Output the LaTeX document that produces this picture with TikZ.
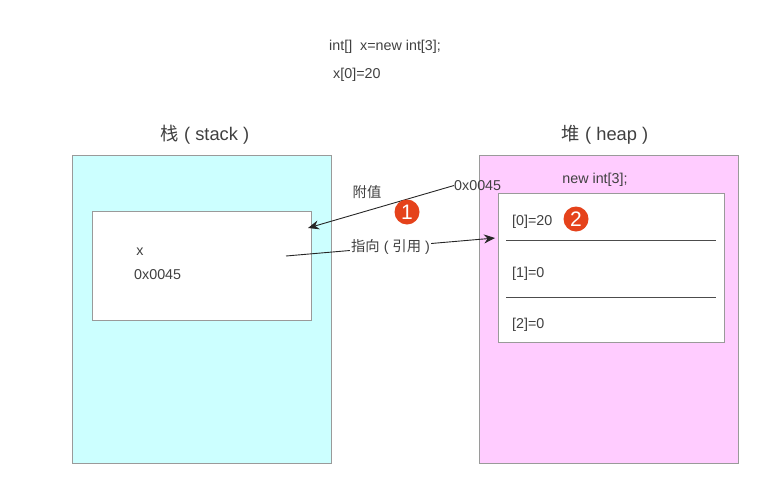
\documentclass[tikz,border=0pt]{standalone}
\usepackage{fontspec}
\setmainfont{Liberation Sans}
\newfontfamily\cjk{Noto Sans CJK SC}
\usetikzlibrary{arrows.meta}
\definecolor{stackfill}{HTML}{CCFFFF}
\definecolor{heapfill}{HTML}{FFCCFF}
\definecolor{edgegray}{HTML}{9A9A9A}
\definecolor{txtgray}{HTML}{404040}
\definecolor{badgered}{HTML}{E5421B}
\tikzset{
	txt/.style={text=txtgray, font=\fontsize{14.3}{16}\selectfont, inner sep=0pt, yshift=-1.5pt},
	title/.style={text=txtgray, font=\fontsize{18.3}{20}\selectfont, inner sep=0pt, yshift=-1.5pt},
	panel/.style={draw=edgegray, line width=0.8pt, inner sep=0pt},
	badge/.style={circle, fill=badgered, text=white, minimum size=25pt, inner sep=0pt, font=\fontsize{21}{21}\selectfont},
	link/.style={draw=black!85, line width=0.9pt, -{Stealth[length=11pt,width=9pt]}}
}
\def\cellsep(#1){\draw[line width=0.9pt, color=black!70] (506,#1) -- (716,#1);}

\begin{document}
\begin{tikzpicture}[x=1pt,y=-1pt]
			%%%%% START %%%%%
			\useasboundingbox (0,0) rectangle (776,482);
			
			\node[txt, anchor=west] (code1) at (329,45) {int[]\ \ x=new int[3];};
			\node[txt, anchor=west] (code2) at (333,73) {x[0]=20};
			
			\node[title] (stitle) at (205,133) {{\cjk 栈} ( stack )};
			\node[title] (htitle) at (605,133) {{\cjk 堆} ( heap )};
			
			\node[panel, fill=stackfill, minimum width=259pt, minimum height=308pt] (stack) at (201.5,309) {};
			\node[panel, fill=white, minimum width=219pt, minimum height=109pt] (xbox) at (201.5,265.5) {};
			\node[txt] (xname) at (140,250) {x};
			\node[txt, anchor=west] (xval) at (134,273) {0x0045};
			
			\node[panel, fill=heapfill, minimum width=259pt, minimum height=308pt] (heap) at (608.5,309) {};
			\node[panel, fill=white, minimum width=226pt, minimum height=149pt] (arr) at (611,267.5) {};
			\node[txt] (newarr) at (595,178) {new int[3];};
			
			\node[txt, anchor=west] (cell0) at (512,220) {[0]=20};
			\node[txt, anchor=west] (cell1) at (512,272) {[1]=0};
			\node[txt, anchor=west] (cell2) at (512,323) {[2]=0};
			\cellsep(240)
			\cellsep(297)
			
			% pointer from x to the array
			\coordinate (ptr) at (286,256);
			\coordinate (ptrtip) at (495,238);
			\draw[link] (ptr) -- node[txt, fill=white, inner xsep=1pt, inner ysep=1pt, yshift=1.5pt] (reflabel) {{\cjk 指向} ( {\cjk 引用} )} (ptrtip);
			
			% address handed back to x
			\node[txt, anchor=west] (addr) at (454,184) {0x0045};
			\coordinate (addrtip) at (308,228);
			\draw[link] (addr.west) -- (addrtip);
			\node[txt] (assign) at (367,191) {\cjk 附值};
			
			\node[badge] (one) at (407,212) {1};
			\node[badge] (two) at (576,219) {2};
			%%%%% END %%%%%
\end{tikzpicture}
\end{document}
